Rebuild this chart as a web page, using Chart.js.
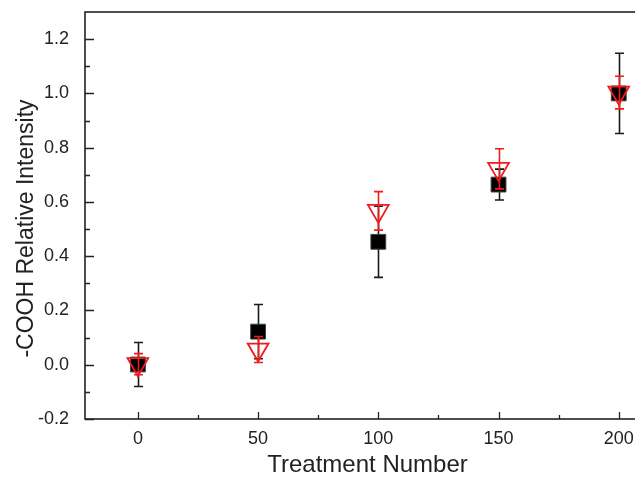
<!DOCTYPE html>
<html>
<head>
<meta charset="utf-8">
<script src="https://cdn.jsdelivr.net/npm/chart.js@4"></script>
<style>
  html, body { margin: 0; padding: 0; background: #fff; overflow: hidden; }
  #grafico { display: block; }
</style>
</head>
<body>
<canvas id="grafico" width="650" height="482"></canvas>
<script>
// treatment numbers
const tratamentos = [0, 50, 100, 150, 200];

// black squares with black error bars
const mediaPreto = [0.001, 0.122, 0.453, 0.664, 1.0];
const erroPreto = [0.081, 0.100, 0.131, 0.057, 0.148];

// red inverted triangles with red error bars
const mediaVermelho = [0.002, 0.056, 0.567, 0.722, 1.003];
const erroVermelho = [0.039, 0.048, 0.071, 0.074, 0.060];

const ticksX = [0, 50, 100, 150, 200];
const ticksXMenores = [0, 25, 50, 75, 100, 125, 150, 175, 200];
const ticksY = [-0.2, 0.0, 0.2, 0.4, 0.6, 0.8, 1.0, 1.2];
const ticksYMenores = [-0.2, -0.1, 0.0, 0.1, 0.2, 0.3, 0.4, 0.5, 0.6, 0.7, 0.8, 0.9, 1.0, 1.1, 1.2];

const tituloY = '-COOH Relative Intensity';

const corTexto = '#222';
const vermelho = '#f21b1b';
const fonte = '"Liberation Sans", Arial, sans-serif';

const paraPontos = (medias) => tratamentos.map((t, i) => ({ x: t, y: medias[i] }));

function desenhaBarras(chart, ds) {
    const { ctx, scales: { x, y } } = chart;
    ctx.save();
    ctx.strokeStyle = ds.corErro;
    ctx.lineWidth = 1.6;
    ds.data.forEach((p, i) => {
        const px = Math.round(x.getPixelForValue(p.x)) + 0.5;
        const topo = y.getPixelForValue(p.y + ds.erros[i]);
        const base = y.getPixelForValue(p.y - ds.erros[i]);
        ctx.beginPath();
        ctx.moveTo(px, topo);
        ctx.lineTo(px, base);
        ctx.moveTo(px - 4.5, topo);
        ctx.lineTo(px + 4.5, topo);
        ctx.moveTo(px - 4.5, base);
        ctx.lineTo(px + 4.5, base);
        ctx.stroke();
    });
    ctx.restore();
}

const barrasErro = {
    id: 'barrasErro',
    beforeDatasetDraw(chart, args) {
        const ds = chart.data.datasets[args.index];
        if (ds.erros && !ds.erroPorCima) desenhaBarras(chart, ds);
    },
    afterDatasetDraw(chart, args) {
        const ds = chart.data.datasets[args.index];
        if (ds.erros && ds.erroPorCima) desenhaBarras(chart, ds);
    }
};

// frame, inward ticks and the y title (sits a bit below the middle in the original)
const moldura = {
    id: 'moldura',
    afterDraw(chart) {
        const { ctx, chartArea: a, scales: { x, y } } = chart;
        ctx.save();
        ctx.strokeStyle = '#222';
        ctx.lineWidth = 1.6;
        ctx.strokeRect(a.left, a.top, a.right - a.left, a.bottom - a.top);
        ctx.lineWidth = 1.3;
        ctx.beginPath();
        ticksXMenores.forEach(v => {
            const px = Math.round(x.getPixelForValue(v)) + 0.5;
            const len = ticksX.includes(v) ? 7 : 4;
            ctx.moveTo(px, a.bottom);
            ctx.lineTo(px, a.bottom - len);
        });
        ticksYMenores.forEach(v => {
            const py = Math.round(y.getPixelForValue(v)) + 0.5;
            const maior = Math.abs(Math.round(v * 10)) % 2 === 0;
            ctx.moveTo(a.left, py);
            ctx.lineTo(a.left + (maior ? 9 : 5), py);
        });
        ctx.stroke();

        ctx.translate(27, (a.top + a.bottom) / 2 + 13);
        ctx.rotate(-Math.PI / 2);
        ctx.fillStyle = corTexto;
        ctx.font = '23px ' + fonte;
        ctx.textAlign = 'center';
        ctx.textBaseline = 'middle';
        ctx.fillText(tituloY, 0, 0);
        ctx.restore();
    }
};

// no automatic padding from the edge labels
const semPadding = (s) => {
    s.paddingTop = 0;
    s.paddingBottom = 0;
    s.paddingLeft = 0;
    s.paddingRight = 0;
};

new Chart(document.getElementById('grafico'), {
    type: 'scatter',
    data: {
        datasets: [{
            label: 'vermelho',
            data: paraPontos(mediaVermelho),
            erros: erroVermelho,
            corErro: vermelho,
            erroPorCima: true,
            pointStyle: 'triangle',
            rotation: 180,
            pointRadius: 12,
            pointHoverRadius: 12,
            borderWidth: 1.8,
            borderColor: vermelho,
            backgroundColor: 'rgba(0,0,0,0)'
        }, {
            label: 'preto',
            data: paraPontos(mediaPreto),
            erros: erroPreto,
            corErro: '#1a1a1a',
            erroPorCima: false,
            pointStyle: 'rect',
            pointRadius: 10.5,
            pointHoverRadius: 10.5,
            borderWidth: 1,
            borderColor: '#444',
            backgroundColor: '#000'
        }]
    },
    options: {
        responsive: false,
        animation: false,
        events: [],
        layout: { autoPadding: false, padding: { top: 12, right: 0, left: 0, bottom: 0 } },
        plugins: {
            legend: { display: false },
            tooltip: { enabled: false }
        },
        scales: {
            x: {
                type: 'linear',
                min: -22,
                max: 213,
                grid: { display: false, drawTicks: false },
                border: { display: false },
                afterFit: (s) => { s.height = 63; semPadding(s); },
                afterBuildTicks: (s) => { s.ticks = ticksX.map(v => ({ value: v })); },
                ticks: {
                    autoSkip: false,
                    maxRotation: 0,
                    padding: 9,
                    color: corTexto,
                    font: { family: fonte, size: 18 },
                    callback: (v) => String(v)
                },
                title: {
                    display: true,
                    text: 'Treatment Number',
                    color: corTexto,
                    font: { family: fonte, size: 24 },
                    padding: { top: 0, bottom: 2 }
                }
            },
            y: {
                min: -0.2,
                max: 1.3,
                grid: { display: false, drawTicks: false },
                border: { display: false },
                afterFit: (s) => { s.width = 85; semPadding(s); },
                afterBuildTicks: (s) => { s.ticks = ticksY.map(v => ({ value: v })); },
                ticks: {
                    autoSkip: false,
                    padding: 16,
                    color: corTexto,
                    font: { family: fonte, size: 18 },
                    callback: (v) => v.toFixed(1)
                }
            }
        }
    },
    plugins: [barrasErro, moldura]
});
</script>
</body>
</html>
